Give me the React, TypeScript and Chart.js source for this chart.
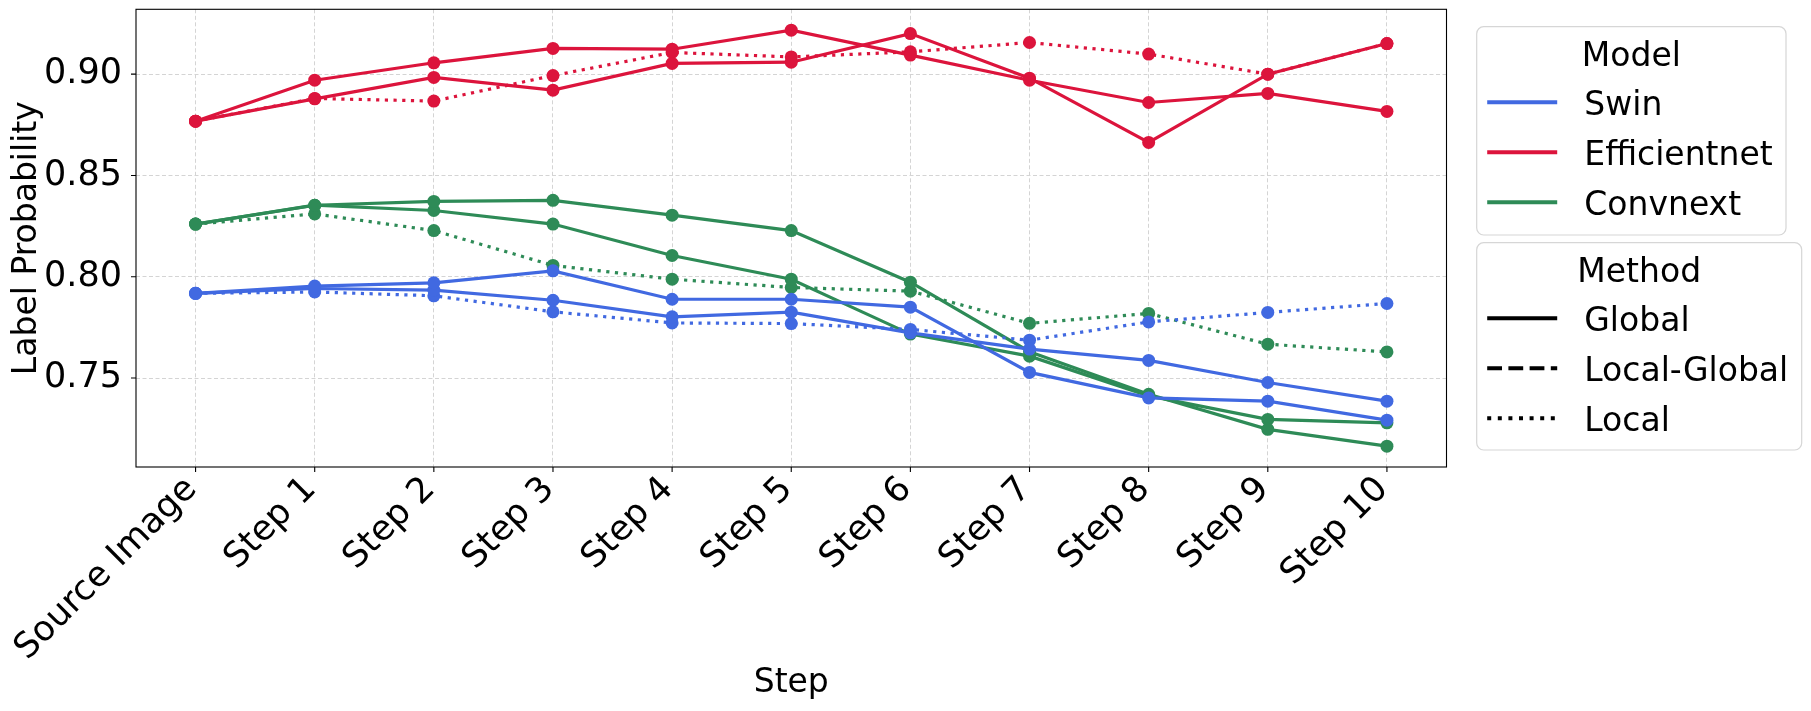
import React, { useEffect, useRef } from "react";
import { Chart, registerables } from "chart.js";

Chart.register(...registerables);

const steps = ["Source Image", "Step 1", "Step 2", "Step 3", "Step 4", "Step 5", "Step 6", "Step 7", "Step 8", "Step 9", "Step 10"];

const models = ["Swin", "Efficientnet", "Convnext"];
const modelColors = ["#4169E1", "#DC143C", "#2E8B57"];
const methods = ["Global", "Local-Global", "Local"];

const yTicks = [0.75, 0.8, 0.85, 0.9];
const yMin = 0.7061;
const yMax = 0.932;

const swinGlobal = [0.7918, 0.7954, 0.797, 0.8029, 0.7889, 0.7889, 0.785, 0.7528, 0.7402, 0.7386, 0.7292];
const swinLocalGlobal = [0.7918, 0.7942, 0.7934, 0.7884, 0.7802, 0.7825, 0.7723, 0.7643, 0.7587, 0.7478, 0.7386];
const swinLocal = [0.7918, 0.7925, 0.7906, 0.7827, 0.7772, 0.7769, 0.774, 0.7687, 0.7777, 0.7824, 0.7868];

const effGlobal = [0.8768, 0.897, 0.9056, 0.9127, 0.9123, 0.9217, 0.9094, 0.897, 0.886, 0.8905, 0.8816];
const effLocalGlobal = [0.8768, 0.8878, 0.8984, 0.8921, 0.9053, 0.9059, 0.92, 0.898, 0.8663, 0.9, 0.9151];
const effLocal = [0.8768, 0.888, 0.8867, 0.8993, 0.9107, 0.9085, 0.911, 0.9156, 0.9099, 0.9, 0.9151];

const convGlobal = [0.826, 0.8353, 0.8372, 0.8377, 0.8304, 0.8228, 0.7973, 0.763, 0.742, 0.7247, 0.7164];
const convLocalGlobal = [0.826, 0.8353, 0.8327, 0.826, 0.8105, 0.7988, 0.7717, 0.7608, 0.7412, 0.7296, 0.7279];
const convLocal = [0.826, 0.831, 0.8228, 0.8056, 0.7988, 0.7947, 0.7929, 0.777, 0.7819, 0.7667, 0.7629];

const seriesByModel = [
  [swinGlobal, swinLocalGlobal, swinLocal],
  [effGlobal, effLocalGlobal, effLocal],
  [convGlobal, convLocalGlobal, convLocal],
];

const W = 1811;
const H = 711;
const FONT = '"DejaVu Sans", "Liberation Sans", sans-serif';
const FS = 33;
const TICK_FS = 35;

// dash patterns: plotted lines (Local-Global renders solid in the reference)
const plotDash = [[], [], [3.2, 5.5]];
const legendDash = [[], [14.8, 6.4], [4, 6.6]];

const decorPlugin = {
  id: "decor",
  afterDatasetsDraw(chart: any) {
    const { ctx, chartArea: a, scales } = chart;
    ctx.save();
    ctx.setLineDash([]);
    ctx.strokeStyle = "#000";
    ctx.lineWidth = 1.1;
    ctx.strokeRect(a.left, a.top, a.right - a.left, a.bottom - a.top);
    const xs = scales.x;
    const ys = scales.y;
    ctx.beginPath();
    xs.ticks.forEach((_: any, i: number) => {
      const px = xs.getPixelForTick(i);
      ctx.moveTo(px, a.bottom);
      ctx.lineTo(px, a.bottom + 5);
    });
    ys.ticks.forEach((_: any, i: number) => {
      const py = ys.getPixelForTick(i);
      ctx.moveTo(a.left - 5, py);
      ctx.lineTo(a.left, py);
    });
    ctx.stroke();

    const drawLegend = (
      box: { x: number; y: number; w: number; h: number },
      title: string,
      labels: string[],
      colors: string[],
      dashes: number[][]
    ) => {
      ctx.save();
      ctx.beginPath();
      ctx.roundRect(box.x, box.y, box.w, box.h, 7);
      ctx.fillStyle = "rgba(255,255,255,0.8)";
      ctx.fill();
      ctx.strokeStyle = "#d6d6d6";
      ctx.lineWidth = 1.2;
      ctx.setLineDash([]);
      ctx.stroke();
      ctx.fillStyle = "#000";
      ctx.font = `${FS}px ${FONT}`;
      ctx.textBaseline = "alphabetic";
      ctx.textAlign = "center";
      ctx.fillText(title, box.x + box.w / 2, box.y + 39);
      ctx.textAlign = "left";
      labels.forEach((lab, i) => {
        const ly = box.y + 75.6 + i * 50;
        ctx.beginPath();
        ctx.setLineDash(dashes[i]);
        ctx.lineCap = "butt";
        ctx.strokeStyle = colors[i];
        ctx.lineWidth = 4;
        ctx.moveTo(box.x + 10.5, ly);
        ctx.lineTo(box.x + 80.5, ly);
        ctx.stroke();
        ctx.setLineDash([]);
        ctx.fillStyle = "#000";
        ctx.fillText(lab, box.x + 107.6, ly + 12.4);
      });
      ctx.restore();
    };

    drawLegend({ x: 1476.7, y: 26.7, w: 309.3, h: 208.3 }, "Model", models, modelColors, [[], [], []]);
    drawLegend({ x: 1476.7, y: 242.7, w: 325, h: 207.3 }, "Method", methods, ["#000", "#000", "#000"], legendDash);
    ctx.restore();
  },
};

export default function App() {
  const ref = useRef<HTMLCanvasElement>(null);

  useEffect(() => {
    if (!ref.current) return;
    const datasets: any[] = [];
    models.forEach((m, mi) => {
      methods.forEach((me, ki) => {
        datasets.push({
          label: `${m} - ${me}`,
          data: seriesByModel[mi][ki],
          borderColor: modelColors[mi],
          backgroundColor: modelColors[mi],
          pointBackgroundColor: modelColors[mi],
          pointBorderWidth: 0,
          pointRadius: 6.5,
          borderWidth: 3.2,
          borderDash: plotDash[ki],
          borderCapStyle: "butt",
          tension: 0,
          fill: false,
        });
      });
    });

    const gridCommon = { color: "#d4d4d4", lineWidth: 1, drawTicks: false };
    const chart = new Chart(ref.current, {
      type: "line",
      data: { labels: steps, datasets },
      options: {
        animation: false,
        responsive: false,
        devicePixelRatio: 1,
        layout: { padding: { left: 0, right: W - 1446.5, top: 9.3, bottom: 0 } },
        plugins: { legend: { display: false }, tooltip: { enabled: false } },
        scales: {
          x: {
            type: "category",
            offset: true,
            grid: { ...gridCommon, offset: false },
            border: { display: false, dash: [4, 2.5] },
            ticks: {
              autoSkip: false,
              minRotation: 45,
              maxRotation: 45,
              color: "#000",
              font: { family: FONT, size: TICK_FS },
              padding: 2,
              labelOffset: -4,
            },
            title: {
              display: true,
              text: "Step",
              color: "#000",
              font: { family: FONT, size: FS },
              padding: { top: 0, bottom: 8 },
            },
            afterFit: (s: any) => {
              s.height = H - 467;
              s.paddingLeft = 0;
              s.paddingRight = 0;
            },
          },
          y: {
            type: "linear",
            min: yMin,
            max: yMax,
            grid: gridCommon,
            border: { display: false, dash: [4, 2.5] },
            afterBuildTicks: (s: any) => {
              s.ticks = yTicks.map((v) => ({ value: v }));
            },
            ticks: {
              color: "#000",
              font: { family: FONT, size: TICK_FS },
              padding: 14,
              callback: (v: any) => Number(v).toFixed(2),
            },
            title: {
              display: true,
              text: "Label Probability",
              color: "#000",
              font: { family: FONT, size: FS },
              padding: { top: 8, bottom: 0 },
            },
            afterFit: (s: any) => {
              s.width = 136;
              s.paddingTop = 0;
              s.paddingBottom = 0;
            },
          },
        },
      },
      plugins: [decorPlugin],
    });
    return () => chart.destroy();
  }, []);

  return (
    <div style={{ position: "fixed", left: 0, top: 0, width: W, height: H, background: "#fff" }}>
      <canvas ref={ref} width={W} height={H} style={{ width: W, height: H, display: "block" }} />
    </div>
  );
}
